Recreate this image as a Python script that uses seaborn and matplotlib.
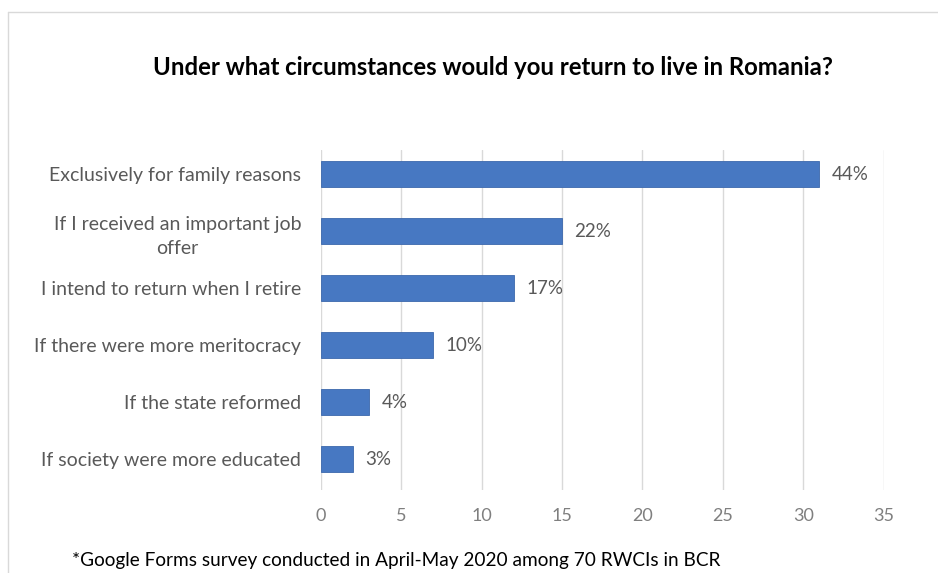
import matplotlib
matplotlib.use("Agg")
import matplotlib.pyplot as plt
import seaborn as sns
import pandas as pd

categories = [
    "Exclusively for family reasons",
    "If I received an important job\noffer",
    "I intend to return when I retire",
    "If there were more meritocracy",
    "If the state reformed",
    "If society were more educated",
]
counts = [31, 15, 12, 7, 3, 2]
pct_labels = ["44%", "22%", "17%", "10%", "4%", "3%"]
x_ticks = [0, 5, 10, 15, 20, 25, 30, 35]

sns.set_theme(style="white")
plt.rcParams['font.family'] = ['Lato', 'DejaVu Sans']

df = pd.DataFrame({"cat": categories, "count": counts})

fig = plt.figure(figsize=(9.38, 5.73), dpi=100)
ax = fig.add_axes([0.342, 0.145, 0.600, 0.593])

sns.barplot(data=df, y="cat", x="count", color="#4778c2", width=0.46,
            saturation=1, ax=ax, edgecolor="#3c68ac", linewidth=0.6)

ax.set_xlim(0, 35)
ax.set_ylim(5.54, -0.42)
ax.set_xticks(x_ticks)
ax.set_xticklabels([str(t) for t in x_ticks], color="#7f7f7f", fontsize=13)
ax.tick_params(axis="x", length=0, pad=13)
ax.tick_params(axis="y", length=0, pad=14)
for lab in ax.get_yticklabels():
    lab.set_color("#595959")
    lab.set_fontsize(14)
    lab.set_horizontalalignment("right")
    lab.set_multialignment("center")
    lab.set_linespacing(1.55)
ax.set_xlabel("")
ax.set_ylabel("")
ax.grid(axis="x", color="#d9d9d9", linewidth=1)
ax.set_axisbelow(True)
for s in ax.spines.values():
    s.set_visible(False)

for cont in ax.containers:
    ax.bar_label(cont, labels=pct_labels, padding=9, color="#595959", fontsize=13.5)

fig.text(0.525, 0.883, "Under what circumstances would you return to live in Romania?",
         ha="center", va="center", fontsize=17.2, fontweight="bold", color="black")
fig.text(0.077, 0.022, "*Google Forms survey conducted in April-May 2020 among 70 RWCIs in BCR",
         ha="left", va="center", fontsize=13.7, color="black")

# outer frame lines
fig.add_artist(plt.Line2D([0.009, 1.0], [0.979, 0.979], color="#d9d9d9", linewidth=1, transform=fig.transFigure))
fig.add_artist(plt.Line2D([0.009, 0.009], [0.0, 0.979], color="#d9d9d9", linewidth=1, transform=fig.transFigure))

fig.savefig("out.png", dpi=100)
